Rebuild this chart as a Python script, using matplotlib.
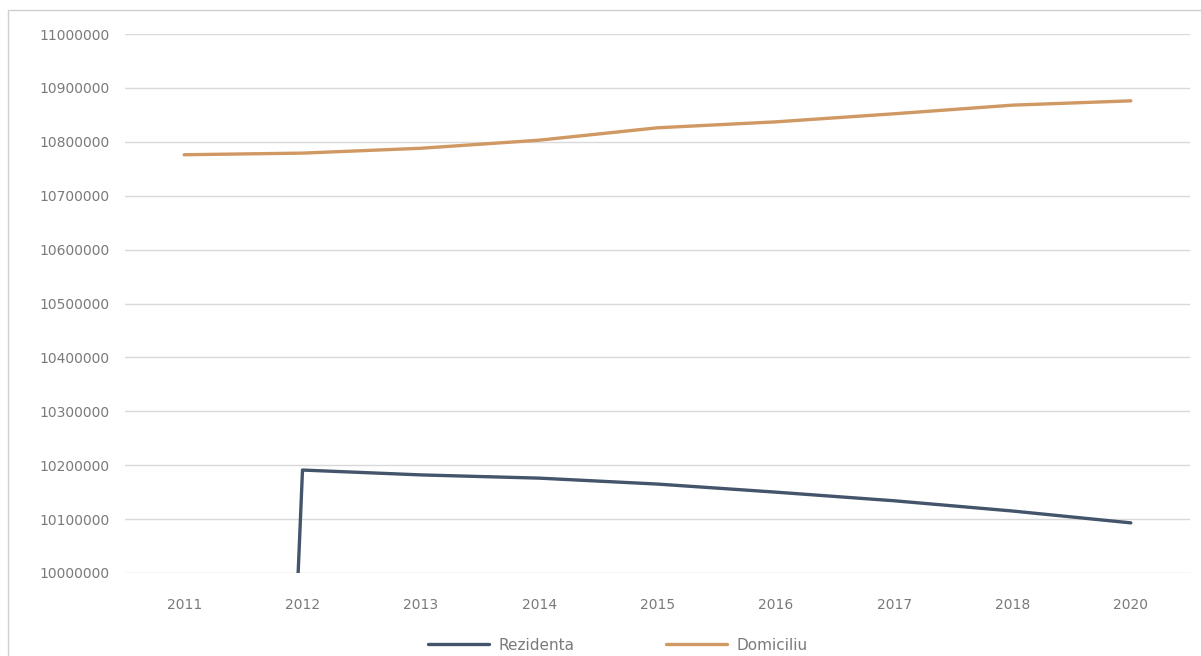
import matplotlib
matplotlib.use("Agg")
import matplotlib.pyplot as plt
from matplotlib.patches import Rectangle

# ---- data ----
years = ["2011", "2012", "2013", "2014", "2015", "2016", "2017", "2018", "2020"]
blue_values = [5000000, 10191000, 10182000, 10176000, 10165000, 10150000, 10134000, 10115000, 10093000]
orange_values = [10776000, 10779000, 10788000, 10803000, 10826000, 10837000, 10852000, 10868000, 10876000]
series_names = ["Rezidenta", "Domiciliu"]
y_ticks = [10000000, 10100000, 10200000, 10300000, 10400000, 10500000,
           10600000, 10700000, 10800000, 10900000, 11000000]

plt.rcParams['font.family'] = ['DejaVu Sans']

fig = plt.figure(figsize=(12.01, 6.56), dpi=100)
ax = fig.add_axes([125 / 1201, 1 - 573 / 656, 1065 / 1201, (573 - 34) / 656])

x = list(range(len(years)))
ax.plot(x, blue_values, color='#44546A', linewidth=2.4, label=series_names[0],
        solid_joinstyle='round', solid_capstyle='round')
ax.plot(x, orange_values, color='#D09862', linewidth=2.4, label=series_names[1],
        solid_joinstyle='round', solid_capstyle='round')

ax.set_xlim(-0.5, len(years) - 0.5)
ax.set_ylim(y_ticks[0], y_ticks[-1])
ax.set_yticks(y_ticks)
ax.set_yticklabels([str(v) for v in y_ticks])
ax.set_xticks(x)
ax.set_xticklabels(years)

ax.grid(axis='y', color='#d9d9d9', linewidth=1.0)
ax.set_axisbelow(True)
for s in ax.spines.values():
    s.set_visible(False)
ax.tick_params(axis='both', length=0, colors='#7a7a7a', labelsize=10)
ax.tick_params(axis='y', pad=11)
ax.tick_params(axis='x', pad=18)

leg = fig.legend(loc='center', bbox_to_anchor=(618 / 1201, 1 - 645 / 656), ncol=2,
                 frameon=False, fontsize=11, handlelength=4.0, columnspacing=6.0,
                 handletextpad=0.6)
for t in leg.get_texts():
    t.set_color('#7a7a7a')

fig.patches.append(Rectangle((8 / 1201, -0.05), 1.2, 1 - 10 / 656 + 0.05,
                             transform=fig.transFigure, fill=False,
                             edgecolor='#d0d0d0', linewidth=1.0))

fig.savefig('out.png', dpi=100, facecolor='white')
